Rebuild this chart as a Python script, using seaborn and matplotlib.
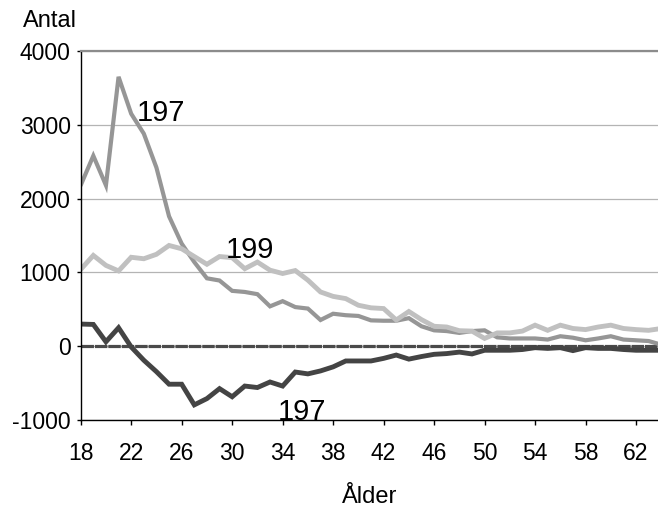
import matplotlib

matplotlib.use("Agg")
import matplotlib.pyplot as plt
import pandas as pd
import seaborn as sns

AGES = list(range(18, 65))

# 1970s, high curve (mid grey)
SERIES_197_HIGH = [
    2180, 2580, 2180, 3650, 3150, 2880, 2420, 1760, 1390, 1140,
    920, 890, 750, 735, 705, 540, 610, 530, 510, 355,
    440, 420, 410, 350, 345, 345, 380, 270, 215, 205,
    180, 205, 215, 120, 105, 105, 105, 90, 135, 115,
    80, 105, 135, 90, 80, 70, 20,
]

# 1990s (light grey)
SERIES_199 = [
    1040, 1230, 1095, 1020, 1205, 1185, 1245, 1365, 1320, 1215,
    1110, 1215, 1200, 1050, 1140, 1030, 985, 1025, 895, 735,
    675, 645, 555, 520, 510, 355, 470, 360, 270, 260,
    210, 205, 105, 180, 180, 205, 285, 215, 285, 240,
    225, 260, 285, 240, 225, 215, 240,
]

# 1970s, low curve (dark grey)
SERIES_197_LOW = [
    300, 295, 60, 250, -10, -190, -345, -515, -515, -795,
    -710, -575, -685, -540, -560, -485, -540, -350, -375, -335,
    -280, -200, -200, -200, -165, -120, -175, -140, -110, -100,
    -80, -105, -55, -55, -55, -45, -20, -30, -20, -60,
    -20, -30, -30, -45, -55, -55, -55,
]

ZERO_LINE = [0] * len(AGES)

X_TICKS = list(range(18, 63, 4))
Y_TICKS = [-1000, 0, 1000, 2000, 3000, 4000]

# label text, x (age), y (baseline)
LABELS = [("197", 24.4, 3054), ("199", 31.4, 1189), ("197", 35.5, -1000)]


def main() -> None:
    sns.set_theme(style="white")
    plt.rcParams["font.family"] = ["Liberation Sans", "DejaVu Sans"]
    plt.rcParams["axes.unicode_minus"] = False
    plt.rcParams["text.color"] = "black"
    plt.rcParams["axes.labelcolor"] = "black"
    plt.rcParams["xtick.color"] = "black"
    plt.rcParams["ytick.color"] = "black"

    frame = pd.DataFrame(
        {
            "age": AGES,
            "high": SERIES_197_HIGH,
            "s199": SERIES_199,
            "low": SERIES_197_LOW,
            "zero": ZERO_LINE,
        }
    )

    fig = plt.figure(figsize=(6.58, 5.07), dpi=100)
    ax = fig.add_axes([80.7 / 658, 87 / 507, 1 - 80.7 / 658, 369 / 507])

    sns.lineplot(data=frame, x="age", y="zero", color="#4a4a4a", linewidth=2.3, ax=ax)
    ax.lines[-1].set_linestyle((0, (3.9, 0.3)))
    sns.lineplot(data=frame, x="age", y="high", color="#969696", linewidth=3.0, ax=ax)
    sns.lineplot(data=frame, x="age", y="s199", color="#c0c0c0", linewidth=3.5, ax=ax)
    sns.lineplot(data=frame, x="age", y="low", color="#444444", linewidth=3.5, ax=ax)
    for line in ax.lines:
        line.set_solid_joinstyle("miter")

    ax.set_xlim(18, 63.74)
    ax.set_ylim(-1000, 4000)
    ax.set_xticks(X_TICKS)
    ax.set_yticks(Y_TICKS)

    ax.yaxis.grid(True, color="#b4b4b4", linewidth=0.9)
    ax.set_axisbelow(True)

    ax.spines["right"].set_visible(False)
    ax.spines["top"].set_color("#8c8c8c")
    ax.spines["top"].set_linewidth(1.6)
    for side in ("left", "bottom"):
        ax.spines[side].set_color("black")
        ax.spines[side].set_linewidth(1.0)

    ax.tick_params(axis="x", direction="out", length=3.8, width=1, color="black",
                   labelcolor="black", labelsize=16.5, pad=12, bottom=True)
    ax.tick_params(axis="y", direction="out", length=3.2, width=1, color="black",
                   labelcolor="black", labelsize=16.5, pad=4, left=True)

    ax.set_xlabel("Ålder", fontsize=17, color="black")
    ax.xaxis.label.set_va("baseline")
    ax.xaxis.set_label_coords(0.5, -0.2249)
    ax.set_ylabel("")

    fig.text(50 / 658, 1 - 27 / 507, "Antal", fontsize=17, ha="center", va="baseline",
             color="black")

    for text, x, y in LABELS:
        ax.text(x, y, text, fontsize=21, ha="center", va="baseline", clip_on=False,
                color="black")

    fig.savefig("out.png", dpi=100)
    plt.close(fig)


if __name__ == "__main__":
    main()
